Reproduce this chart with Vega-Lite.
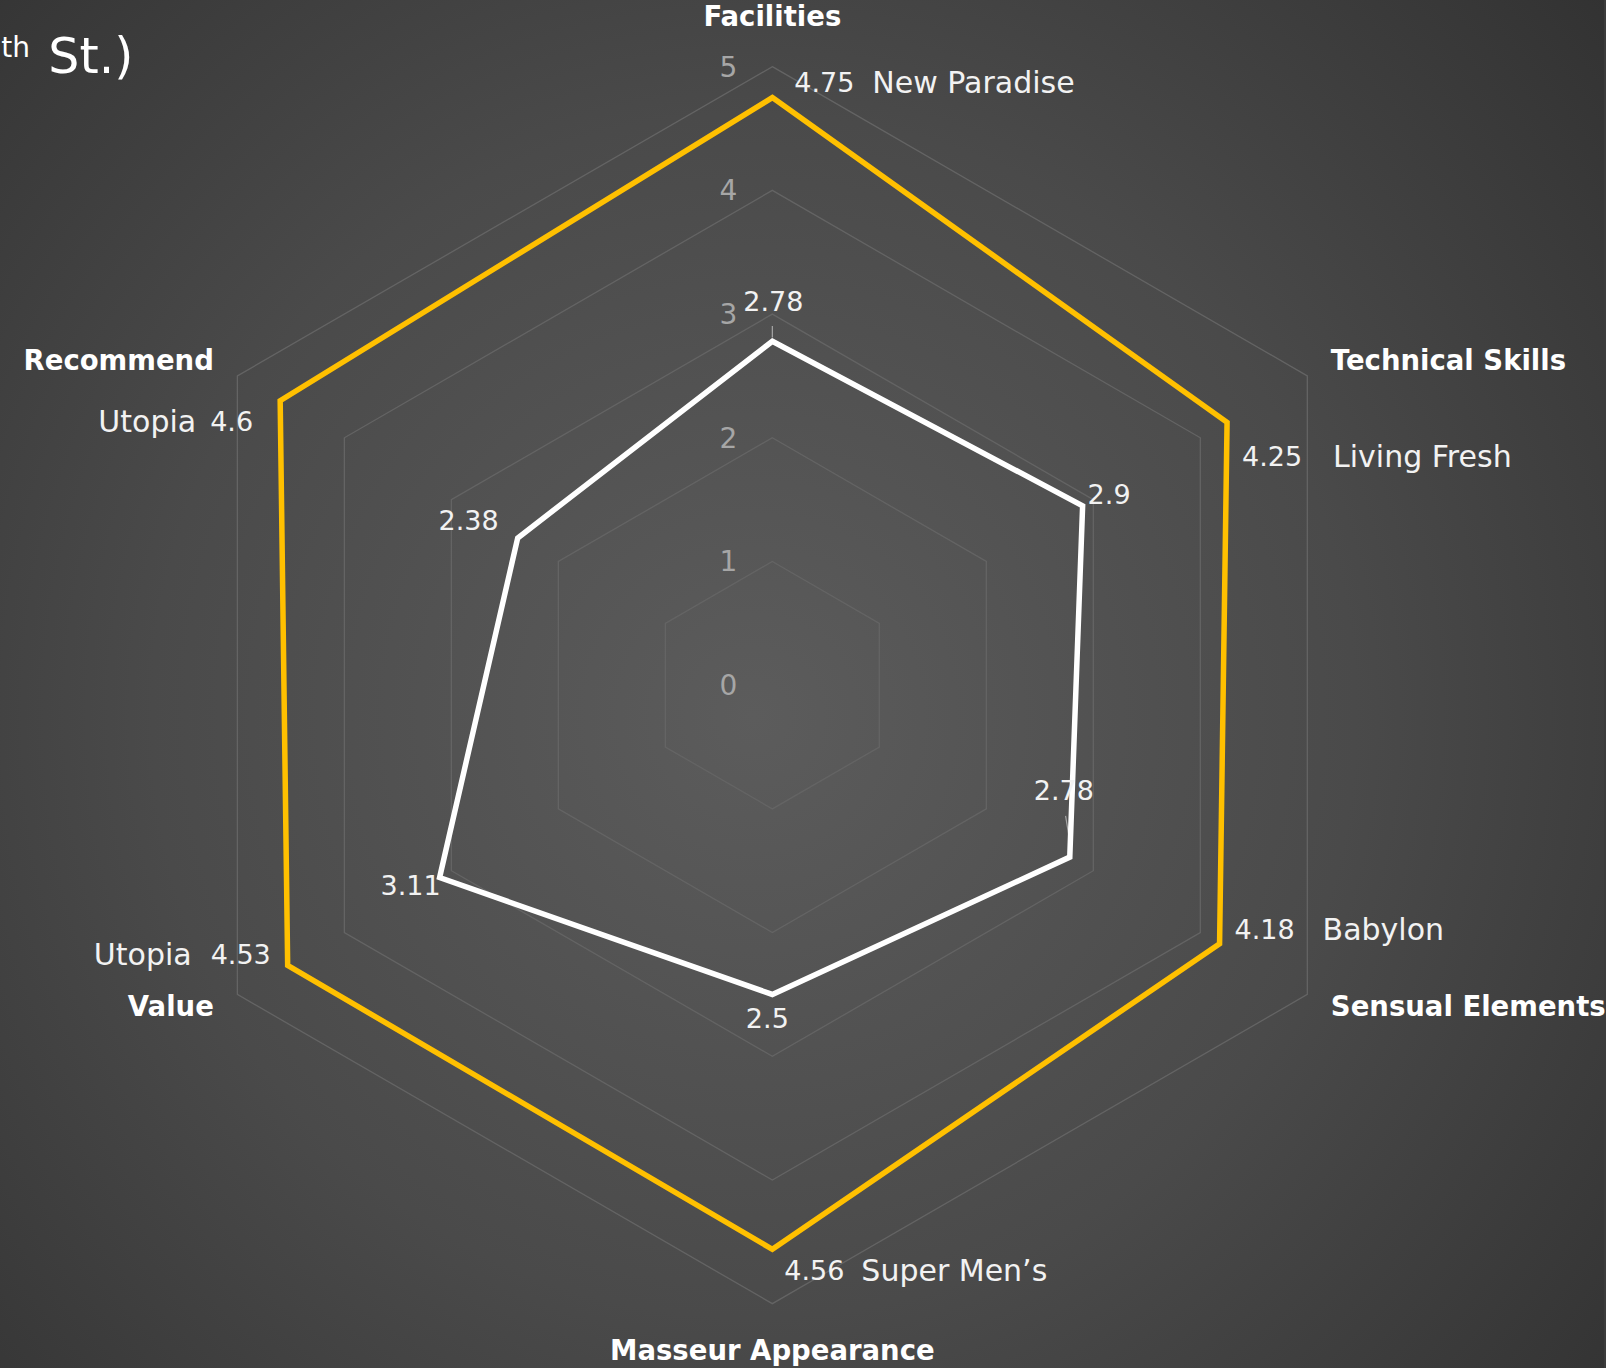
{
  "$schema": "https://vega.github.io/schema/vega-lite/v6.json",
  "width": 1606,
  "height": 1368,
  "autosize": {"type": "fit", "contains": "padding"},
  "padding": 0,
  "background": "#3c3c3c",
  "config": {
    "view": {"stroke": null},
    "text": {"font": "DejaVu Sans", "fontSize": 27, "fill": "#f2f2f2", "baseline": "middle"}
  },
  "datasets": {
    "radar": [
      {"axis": "Facilities", "idx": 0, "best": 4.75, "leader": "New Paradise", "spa": 2.78},
      {"axis": "Technical Skills", "idx": 1, "best": 4.25, "leader": "Living Fresh", "spa": 2.9},
      {"axis": "Sensual Elements", "idx": 2, "best": 4.18, "leader": "Babylon", "spa": 2.78},
      {"axis": "Masseur Appearance", "idx": 3, "best": 4.56, "leader": "Super Men’s", "spa": 2.5},
      {"axis": "Value", "idx": 4, "best": 4.53, "leader": "Utopia", "spa": 3.11},
      {"axis": "Recommend", "idx": 5, "best": 4.6, "leader": "Utopia", "spa": 2.38}
    ],
    "grid": [
      {"level": 1, "idx": [0, 1, 2, 3, 4, 5]},
      {"level": 2, "idx": [0, 1, 2, 3, 4, 5]},
      {"level": 3, "idx": [0, 1, 2, 3, 4, 5]},
      {"level": 4, "idx": [0, 1, 2, 3, 4, 5]},
      {"level": 5, "idx": [0, 1, 2, 3, 4, 5]}
    ],
    "levels": [{"level": 0}, {"level": 1}, {"level": 2}, {"level": 3}, {"level": 4}, {"level": 5}]
  },
  "encoding": {
    "x": {"field": "x", "type": "quantitative", "scale": {"domain": [-6.2515, 6.7316], "nice": false, "zero": false}, "axis": null},
    "y": {"field": "y", "type": "quantitative", "scale": {"domain": [-5.52, 5.539], "nice": false, "zero": false}, "axis": null}
  },
  "layer": [
    {
      "data": {"values": [{"bg": 1}]},
      "transform": [
        {"calculate": "-6.2515", "as": "x"},
        {"calculate": "6.7316", "as": "x2"},
        {"calculate": "-5.52", "as": "y"},
        {"calculate": "5.539", "as": "y2"}
      ],
      "mark": {
        "type": "rect",
        "fill": {
          "gradient": "radial",
          "x1": 0.47, "y1": 0.52, "r1": 0,
          "x2": 0.47, "y2": 0.52, "r2": 0.75,
          "stops": [
            {"offset": 0, "color": "#5c5c5c"},
            {"offset": 0.5, "color": "#4a4a4a"},
            {"offset": 1, "color": "#2e2e2e"}
          ]
        }
      },
      "encoding": {
        "x2": {"field": "x2"},
        "y2": {"field": "y2"}
      }
    },
    {
      "data": {"values": [{"t": "St.)"}]},
      "transform": [
        {"calculate": "-5.86", "as": "x"},
        {"calculate": "4.95", "as": "y"}
      ],
      "mark": {"type": "text", "align": "left", "baseline": "alphabetic", "fontSize": 49, "fill": "#ffffff"},
      "encoding": {"text": {"field": "t", "type": "nominal"}}
    },
    {
      "data": {"values": [{"t": "th"}]},
      "transform": [
        {"calculate": "-6.009", "as": "x"},
        {"calculate": "5.079", "as": "y"}
      ],
      "mark": {"type": "text", "align": "right", "baseline": "alphabetic", "fontSize": 28, "fill": "#ffffff"},
      "encoding": {"text": {"field": "t", "type": "nominal"}}
    },
    {
      "data": {"name": "grid"},
      "transform": [
        {"flatten": ["idx"]},
        {"calculate": "datum.level*sin(datum.idx*PI/3)", "as": "x"},
        {"calculate": "datum.level*cos(datum.idx*PI/3)", "as": "y"}
      ],
      "mark": {"type": "line", "interpolate": "linear-closed", "stroke": "#646464", "strokeWidth": 1.3},
      "encoding": {
        "detail": {"field": "level", "type": "nominal"},
        "order": {"field": "idx", "type": "quantitative"}
      }
    },
    {
      "data": {"name": "levels"},
      "transform": [
        {"calculate": "0", "as": "x"},
        {"calculate": "datum.level", "as": "y"}
      ],
      "mark": {"type": "text", "align": "center", "dx": -44, "dy": 2, "fontSize": 28, "fill": "#a6a6a6"},
      "encoding": {"text": {"field": "level", "type": "nominal"}}
    },
    {
      "data": {"name": "radar"},
      "transform": [
        {"filter": "datum.idx == 0 || datum.idx == 2"},
        {"calculate": "datum.spa*sin(datum.idx*PI/3) + (datum.idx == 0 ? 0 : -0.034)", "as": "x"},
        {"calculate": "datum.spa*cos(datum.idx*PI/3) + (datum.idx == 0 ? 0.124 : 0.333)", "as": "y"},
        {"calculate": "datum.spa*sin(datum.idx*PI/3)", "as": "x2"},
        {"calculate": "datum.spa*cos(datum.idx*PI/3) + (datum.idx == 0 ? 0.03 : 0.13)", "as": "y2"}
      ],
      "mark": {"type": "rule", "stroke": "#a6a6a6", "strokeWidth": 1.2},
      "encoding": {
        "x2": {"field": "x2"},
        "y2": {"field": "y2"}
      }
    },
    {
      "data": {"name": "radar"},
      "transform": [
        {"fold": ["best", "spa"], "as": ["series", "value"]},
        {"calculate": "datum.value*sin(datum.idx*PI/3)", "as": "x"},
        {"calculate": "datum.value*cos(datum.idx*PI/3)", "as": "y"}
      ],
      "mark": {"type": "line", "interpolate": "linear-closed", "strokeWidth": 5.5, "strokeJoin": "miter"},
      "encoding": {
        "color": {"field": "series", "type": "nominal", "scale": {"domain": ["best", "spa"], "range": ["#FFC000", "#FFFFFF"]}, "legend": null},
        "order": {"field": "idx", "type": "quantitative"}
      }
    },
    {
      "data": {"name": "radar"},
      "transform": [
        {"calculate": "datum.idx % 3 == 0 ? 5.39 : 5.22", "as": "lr"},
        {"calculate": "datum.lr*sin(datum.idx*PI/3)", "as": "x"},
        {"calculate": "datum.lr*cos(datum.idx*PI/3)", "as": "y"}
      ],
      "layer": [
        {
          "transform": [{"filter": "datum.idx == 0 || datum.idx == 3"}],
          "mark": {"type": "text", "align": "center", "fontWeight": "bold", "fontSize": 27.5, "fill": "#ffffff"},
          "encoding": {"text": {"field": "axis", "type": "nominal"}}
        },
        {
          "transform": [{"filter": "datum.idx == 1 || datum.idx == 2"}],
          "mark": {"type": "text", "align": "left", "fontWeight": "bold", "fontSize": 27.5, "fill": "#ffffff"},
          "encoding": {"text": {"field": "axis", "type": "nominal"}}
        },
        {
          "transform": [{"filter": "datum.idx == 4 || datum.idx == 5"}],
          "mark": {"type": "text", "align": "right", "fontWeight": "bold", "fontSize": 27.5, "fill": "#ffffff"},
          "encoding": {"text": {"field": "axis", "type": "nominal"}}
        }
      ]
    },
    {
      "data": {"name": "radar"},
      "transform": [
        {"calculate": "datum.best*sin(datum.idx*PI/3)", "as": "x"},
        {"calculate": "datum.best*cos(datum.idx*PI/3)", "as": "y"}
      ],
      "layer": [
        {"transform": [{"filter": "datum.idx == 0"}], "layer": [
          {"mark": {"type": "text", "align": "left", "dx": 22, "dy": -14}, "encoding": {"text": {"field": "best", "type": "nominal"}}},
          {"mark": {"type": "text", "align": "left", "dx": 100, "dy": -14, "fontSize": 30}, "encoding": {"text": {"field": "leader", "type": "nominal"}}}
        ]},
        {"transform": [{"filter": "datum.idx == 1"}], "layer": [
          {"mark": {"type": "text", "align": "left", "dx": 15, "dy": 36}, "encoding": {"text": {"field": "best", "type": "nominal"}}},
          {"mark": {"type": "text", "align": "left", "dx": 106, "dy": 36, "fontSize": 30}, "encoding": {"text": {"field": "leader", "type": "nominal"}}}
        ]},
        {"transform": [{"filter": "datum.idx == 2"}], "layer": [
          {"mark": {"type": "text", "align": "left", "dx": 15, "dy": -13}, "encoding": {"text": {"field": "best", "type": "nominal"}}},
          {"mark": {"type": "text", "align": "left", "dx": 103, "dy": -13, "fontSize": 30}, "encoding": {"text": {"field": "leader", "type": "nominal"}}}
        ]},
        {"transform": [{"filter": "datum.idx == 3"}], "layer": [
          {"mark": {"type": "text", "align": "left", "dx": 12, "dy": 23}, "encoding": {"text": {"field": "best", "type": "nominal"}}},
          {"mark": {"type": "text", "align": "left", "dx": 89, "dy": 23, "fontSize": 30}, "encoding": {"text": {"field": "leader", "type": "nominal"}}}
        ]},
        {"transform": [{"filter": "datum.idx == 4"}], "layer": [
          {"mark": {"type": "text", "align": "left", "dx": -77, "dy": -9}, "encoding": {"text": {"field": "best", "type": "nominal"}}},
          {"mark": {"type": "text", "align": "right", "dx": -96, "dy": -9, "fontSize": 30}, "encoding": {"text": {"field": "leader", "type": "nominal"}}}
        ]},
        {"transform": [{"filter": "datum.idx == 5"}], "layer": [
          {"mark": {"type": "text", "align": "left", "dx": -70, "dy": 22}, "encoding": {"text": {"field": "best", "type": "nominal"}}},
          {"mark": {"type": "text", "align": "right", "dx": -84, "dy": 22, "fontSize": 30}, "encoding": {"text": {"field": "leader", "type": "nominal"}}}
        ]}
      ]
    },
    {
      "data": {"name": "radar"},
      "transform": [
        {"calculate": "datum.spa*sin(datum.idx*PI/3)", "as": "x"},
        {"calculate": "datum.spa*cos(datum.idx*PI/3)", "as": "y"}
      ],
      "layer": [
        {"transform": [{"filter": "datum.idx == 0"}], "mark": {"type": "text", "align": "center", "dx": 1, "dy": -38}, "encoding": {"text": {"field": "spa", "type": "nominal"}}},
        {"transform": [{"filter": "datum.idx == 1"}], "mark": {"type": "text", "align": "left", "dx": 5, "dy": -10}, "encoding": {"text": {"field": "spa", "type": "nominal"}}},
        {"transform": [{"filter": "datum.idx == 2"}], "mark": {"type": "text", "align": "center", "dx": -6, "dy": -65}, "encoding": {"text": {"field": "spa", "type": "nominal"}}},
        {"transform": [{"filter": "datum.idx == 3"}], "mark": {"type": "text", "align": "center", "dx": -5, "dy": 26}, "encoding": {"text": {"field": "spa", "type": "nominal"}}},
        {"transform": [{"filter": "datum.idx == 4"}], "mark": {"type": "text", "align": "right", "dx": 1, "dy": 9}, "encoding": {"text": {"field": "spa", "type": "nominal"}}},
        {"transform": [{"filter": "datum.idx == 5"}], "mark": {"type": "text", "align": "right", "dx": -19, "dy": -16}, "encoding": {"text": {"field": "spa", "type": "nominal"}}}
      ]
    }
  ]
}
